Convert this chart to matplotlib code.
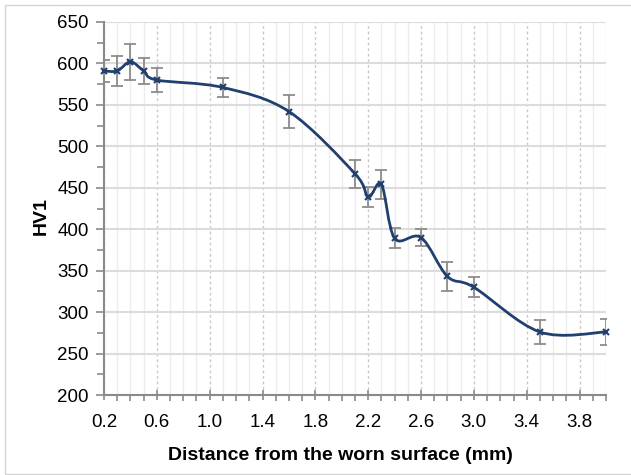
import matplotlib.pyplot as plt
import numpy as np
from matplotlib.path import Path
from matplotlib.patches import PathPatch, Rectangle
from matplotlib.ticker import MultipleLocator, FixedLocator

plt.rcParams['font.family'] = ['Liberation Sans', 'DejaVu Sans']

# distance from worn surface (mm), hardness HV1 and its error
dist = [0.2, 0.3, 0.4, 0.5, 0.6, 1.1, 1.6, 2.1, 2.2, 2.3, 2.4, 2.6, 2.8, 3.0, 3.5, 4.0]
hv = [591, 591, 602, 591, 580, 571, 542, 467, 439, 454, 389, 390, 343, 330, 276, 276]
hv_err = [13, 18, 22, 16, 14, 12, 20, 17, 12, 18, 12, 10, 17, 12, 14, 16]

x_ticks = [0.2, 0.6, 1.0, 1.4, 1.8, 2.2, 2.6, 3.0, 3.4, 3.8]

navy = '#213f6f'

fig = plt.figure(figsize=(6.31, 4.75), dpi=100)
# axes from x=104..606 px, y=22..395 px
ax = fig.add_axes([104 / 631, 80 / 475, 502 / 631, 373 / 475])

# chart area border like excel
fig.patches.append(Rectangle((4.5 / 631, 1.5 / 475), 1.2, 469 / 475, transform=fig.transFigure,
                             fill=False, edgecolor='#d4d4d4', lw=1.0))

ax.set_xlim(0.2, 4.0)
ax.set_ylim(200, 650)

# grid
ax.xaxis.set_major_locator(FixedLocator(x_ticks))
ax.xaxis.set_minor_locator(MultipleLocator(0.1))
ax.yaxis.set_major_locator(MultipleLocator(50))
ax.yaxis.set_minor_locator(MultipleLocator(25))
ax.grid(True, axis='y', which='major', color='#dcdcdc', lw=1.5, ls='-')
ax.grid(True, axis='x', which='minor', color='#ececec', lw=1.0, ls='-')
ax.grid(True, axis='x', which='major', color='#c8c8c8', lw=1.0, ls=(0, (2, 2)))
ax.set_axisbelow(True)

for s in ['top', 'right']:
    ax.spines[s].set_visible(False)
for s in ['left', 'bottom']:
    ax.spines[s].set_color('#8a8a8a')
    ax.spines[s].set_linewidth(1.5)

ax.tick_params(axis='x', which='major', direction='inout', length=7, width=1.2,
               color='#8a8a8a', labelsize=13.5, pad=10)
ax.tick_params(axis='x', which='minor', direction='out', length=4, width=1.2, color='#8a8a8a')
ax.tick_params(axis='y', which='major', direction='out', length=6, width=1.2,
               color='#8a8a8a', labelsize=13.5, pad=5)
ax.tick_params(axis='y', which='minor', direction='out', length=5, width=1.2, color='#8a8a8a')
ax.set_xticklabels([f'{t:.1f}' for t in x_ticks])

# error bars
ax.errorbar(dist, hv, yerr=hv_err, fmt='none', ecolor='#8c8c8c', elinewidth=1.3,
            capsize=4, capthick=1.3, zorder=2)

# smooth line (excel style bezier through the points)
P = np.column_stack([dist, hv]).astype(float)
Pe = np.vstack([P[0], P, P[-1]])
verts = [tuple(P[0])]
codes = [Path.MOVETO]
for i in range(len(P) - 1):
    p0, p1, p2, p3 = Pe[i], Pe[i + 1], Pe[i + 2], Pe[i + 3]
    c1 = p1 + (p2 - p0) / 6.0
    c2 = p2 - (p3 - p1) / 6.0
    verts += [tuple(c1), tuple(c2), tuple(p2)]
    codes += [Path.CURVE4] * 3
ax.add_patch(PathPatch(Path(verts, codes), fill=False, edgecolor=navy, lw=2.0, zorder=3))

ax.plot(dist, hv, 'x', color=navy, ms=5, mew=1.5, zorder=4, clip_on=False)

ax.set_xlabel('Distance from the worn surface (mm)', fontsize=14, fontweight='bold')
ax.xaxis.label.set_va('center')
ax.xaxis.set_label_coords((340 - 104) / 502, (395 - 456) / 373)
ax.set_ylabel('HV1', fontsize=14, fontweight='bold')
ax.yaxis.label.set_va('center')
ax.yaxis.set_label_coords((41 - 104) / 502, 0.48)

fig.savefig('out.png', dpi=100)
